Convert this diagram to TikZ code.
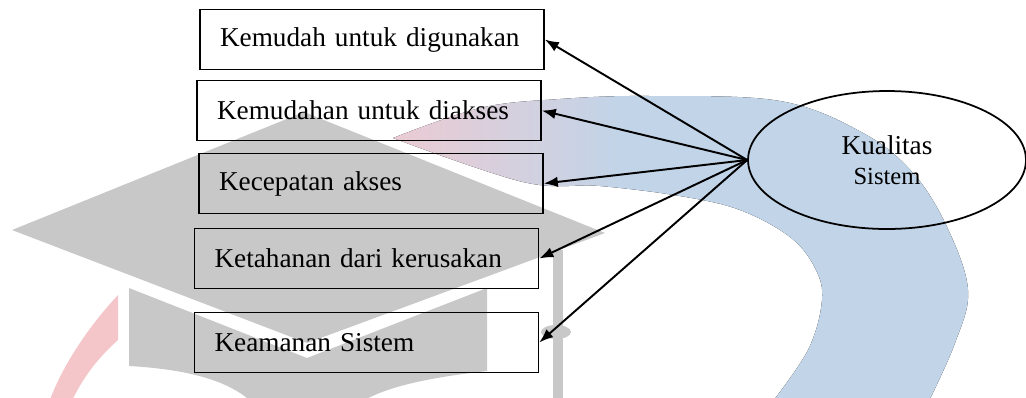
\documentclass[tikz,border=0pt]{standalone}
\usepackage{fontspec}
\setmainfont{Liberation Serif}
\usepackage{tikz}
\usetikzlibrary{shapes}
\usetikzlibrary{arrows.meta}

\definecolor{capgray}{HTML}{C8C8C8}
\definecolor{arcpink}{HTML}{F5C6C9}
\definecolor{ringblue}{HTML}{C1D4E8}
\definecolor{ringpink}{HTML}{EBCBD3}
\pgfdeclarehorizontalshading{ringshade}{100bp}{color(0bp)=(ringpink); color(25bp)=(ringpink); color(45bp)=(ringblue); color(100bp)=(ringblue)}

\begin{document}
\begin{tikzpicture}[x=0.02cm, y=-0.02cm,
        factor/.style={draw, line width=0.9pt, minimum width=6.88cm, minimum height=1.2cm,
            text width=6.08cm, inner xsep=0.4cm, align=left, font=\fontsize{15.5}{17}\selectfont},
        quality/.style={draw, ellipse, line width=1pt, minimum width=5.56cm, minimum height=2.76cm,
            align=center, font=\fontsize{15.5}{17}\selectfont},
        link/.style={line width=1.1pt, -{Latex[length=8pt,width=6pt]}}]
            \useasboundingbox (0,0) rectangle (1026,397);

            % logo in the background
            \begin{scope}
                \clip (0,0) rectangle (1026,397);
                \fill[shading=ringshade]
                    plot[smooth, tension=0.6] coordinates {(393,138) (480,108) (560,99) (650,96) (780,101) (863,133) (913,173) (947,227) (968,290) (955,343) (927,405)}
                    -- plot[smooth, tension=0.6] coordinates {(770,405) (808,350) (822,300) (815,268) (790,237) (740,210) (680,196) (600,186) (523,182) (393,138)}
                    -- cycle;
                \fill[arcpink] (118,295) .. controls (90,325) and (62,365) .. (48,405)
                    -- (70,405) .. controls (82,378) and (98,358) .. (118,340) -- cycle;
                \fill[capgray] (12,230) -- (304,112) -- (605,233) -- (307,343) -- cycle;
                \fill[capgray] (129,288) -- (307,358) -- (487,288) -- (487,371)
                    .. controls (425,378) and (380,388) .. (357,405)
                    -- (255,405) .. controls (235,385) and (200,370) .. (129,366) -- cycle;
                \fill[capgray] (553,250) rectangle (563,405);
                \fill[capgray] (556,332) ellipse [x radius=15, y radius=7];
            \end{scope}

            \node[factor] (a) at (372,39.5) {Kemudah untuk digunakan};
            \node[factor] (b) at (369,110.5) {Kemudahan untuk diakses};
            \node[factor] (c) at (371,183.5) {Kecepatan akses};
            \node[factor] (d) at (366.5,258.5) {Ketahanan dari kerusakan};
            \node[factor] (e) at (366.5,342.5) {Keamanan Sistem};

            \node[quality] (k) at (887,160) {Kualitas\\{\fontsize{14}{17}\selectfont Sistem}};

            \draw[link] (k.west) -- (a.east);
            \draw[link] (k.west) -- (b.east);
            \draw[link] (k.west) -- (c.east);
            \draw[link] (k.west) -- (d.east);
            \draw[link] (k.west) -- (e.east);
        \end{tikzpicture}
\end{document}
